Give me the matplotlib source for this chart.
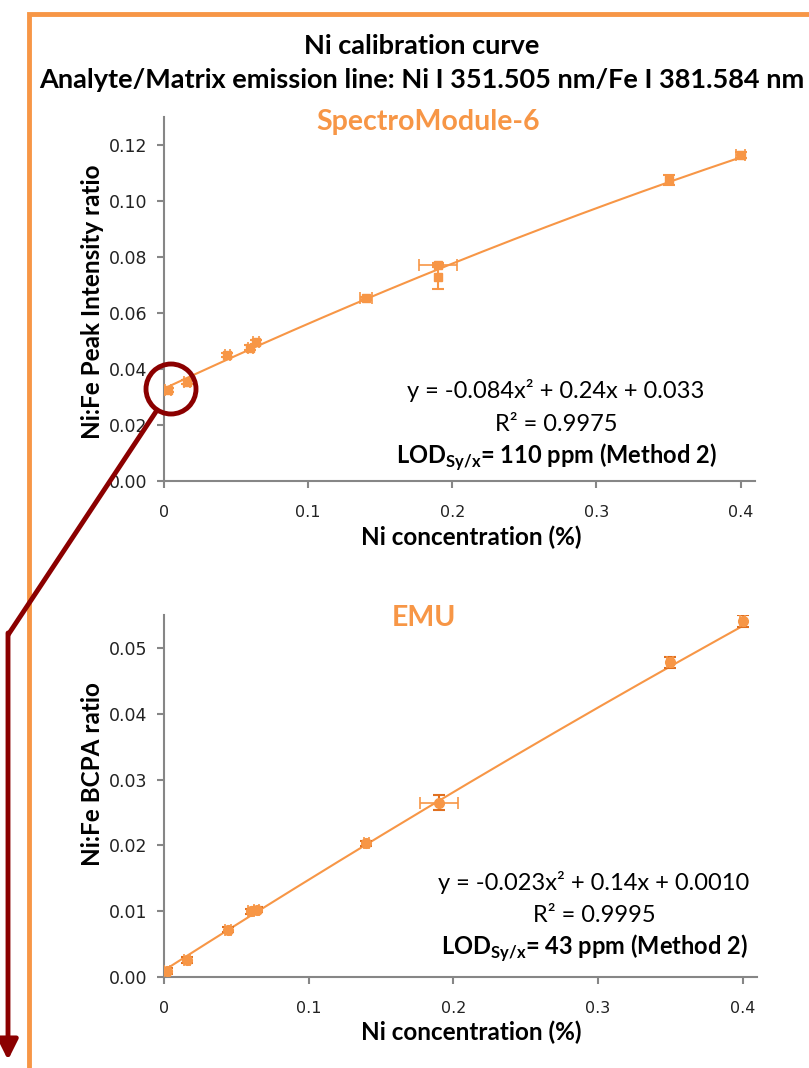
import matplotlib
matplotlib.use("Agg")
import matplotlib.pyplot as plt
import numpy as np
from matplotlib.patches import Circle, FancyArrowPatch
from matplotlib.lines import Line2D
from matplotlib.transforms import IdentityTransform

# SpectroModule-6 data (square markers)
sm_x = [0.003, 0.016, 0.044, 0.060, 0.064, 0.140, 0.190, 0.190, 0.350, 0.400]
sm_y = [0.0325, 0.0354, 0.0450, 0.0476, 0.0496, 0.0652, 0.0771, 0.0730, 0.1075, 0.1164]
sm_xerr = [0.002, 0.002, 0.002, 0.002, 0.002, 0.004, 0.013, 0.0, 0.002, 0.003]
sm_yerr = [0.0008, 0.0008, 0.0008, 0.0008, 0.0008, 0.0006, 0.0008, 0.0043, 0.0019, 0.0010]
sm_fit = [-0.084, 0.24, 0.033]

# EMU data (round markers)
emu_x = [0.002, 0.016, 0.044, 0.060, 0.064, 0.140, 0.190, 0.350, 0.400]
emu_y = [0.0009, 0.0026, 0.0072, 0.0100, 0.0102, 0.0203, 0.0265, 0.0478, 0.0541]
emu_xerr = [0.002, 0.002, 0.002, 0.002, 0.002, 0.002, 0.013, 0.002, 0.002]
emu_yerr = [0.0004, 0.0004, 0.0004, 0.0004, 0.0004, 0.0004, 0.0011, 0.0008, 0.0009]
emu_fit = [-0.023, 0.14, 0.0010]

sm_yticks = [0.00, 0.02, 0.04, 0.06, 0.08, 0.10, 0.12]
emu_yticks = [0.00, 0.01, 0.02, 0.03, 0.04, 0.05]
xticks = [0, 0.1, 0.2, 0.3, 0.4]
xticklabels = ['0', '0.1', '0.2', '0.3', '0.4']

ORANGE = '#F79646'
DARK_ORANGE = '#E07020'
DARK_RED = '#8B0000'
GREY = '#868686'

plt.rcParams['mathtext.fontset'] = 'custom'
plt.rcParams['mathtext.rm'] = 'Lato'
plt.rcParams['mathtext.bf'] = 'Lato:bold'

W, H = 809, 1068
fig = plt.figure(figsize=(W / 100, H / 100), dpi=100)


def fx(x):
    return x / W


def fy(y):
    return 1 - y / H


def style_axes(ax, yticks, ymax, yfmt):
    ax.set_xlim(0, 0.41)
    ax.set_ylim(0, ymax)
    ax.set_xticks(xticks)
    ax.set_xticklabels(xticklabels)
    ax.set_yticks(yticks)
    ax.set_yticklabels([yfmt % v for v in yticks])
    for s in ['top', 'right']:
        ax.spines[s].set_visible(False)
    for s in ['left', 'bottom']:
        ax.spines[s].set_color(GREY)
        ax.spines[s].set_linewidth(1.5)
    ax.tick_params(colors=GREY, width=1.5, length=5, direction='out',
                   labelcolor='#222222')
    ax.tick_params(axis='x', pad=12, labelsize=11.5)
    ax.tick_params(axis='y', pad=7, labelsize=12.5)
    ax.patch.set_alpha(0)


def draw(ax, x, y, xerr, yerr, fit, marker, ms, ycol):
    xs = np.linspace(0, max(x), 200)
    ax.plot(xs, np.polyval(fit, xs), color=ORANGE, lw=1.5, zorder=2)
    ax.errorbar(x, y, yerr=yerr, fmt='none', ecolor=ycol, elinewidth=1.5,
                capsize=4, capthick=1.5, zorder=3)
    ax.errorbar(x, y, xerr=xerr, fmt='none', ecolor=ORANGE, elinewidth=1.2,
                capsize=4, capthick=1.2, zorder=3)
    ax.plot(x, y, ls='none', marker=marker, ms=ms, color=ORANGE,
            mec=ORANGE, zorder=4)


# top chart
ax1 = fig.add_axes([fx(164), fy(481), fx(755) - fx(164), fy(117) - fy(481)])
style_axes(ax1, sm_yticks, 0.13, '%.2f')
draw(ax1, sm_x, sm_y, sm_xerr, sm_yerr, sm_fit, 's', 5.5, ORANGE)

# bottom chart
ax2 = fig.add_axes([fx(164), fy(977), fx(757) - fx(164), fy(615) - fy(977)])
style_axes(ax2, emu_yticks, 0.055, '%.2f')
draw(ax2, emu_x, emu_y, emu_xerr, emu_yerr, emu_fit, 'o', 7, DARK_ORANGE)

# titles
fig.text(fx(422), fy(46), 'Ni calibration curve', ha='center', va='center',
         fontsize=19.5, fontweight='bold', family='Lato')
fig.text(fx(422), fy(80), 'Analyte/Matrix emission line: Ni I 351.505 nm/Fe I 381.584 nm',
         ha='center', va='center', fontsize=19.5, fontweight='bold', family='Lato')
fig.text(fx(428), fy(122), 'SpectroModule-6', ha='center', va='center',
         fontsize=20.5, fontweight='bold', family='Lato', color=ORANGE)
fig.text(fx(424), fy(618), 'EMU', ha='center', va='center',
         fontsize=20.5, fontweight='bold', family='Lato', color=ORANGE)

# axis labels
for yy in (537, 1032):
    fig.text(fx(471), fy(yy), 'Ni concentration (%)', ha='center', va='center',
             fontsize=17.5, fontweight='bold', family='Lato')
fig.text(fx(93), fy(302), 'Ni:Fe Peak Intensity ratio', ha='center', va='center',
         rotation=90, fontsize=17.5, fontweight='bold', family='Lato')
fig.text(fx(93), fy(774), 'Ni:Fe BCPA ratio', ha='center', va='center',
         rotation=90, fontsize=17.5, fontweight='bold', family='Lato')

# equations
fig.text(fx(556), fy(390), 'y = -0.084x² + 0.24x + 0.033', ha='center', va='center',
         fontsize=17, family='Lato')
fig.text(fx(556), fy(424), 'R² = 0.9975', ha='center', va='center',
         fontsize=17, family='Lato')
fig.text(fx(556), fy(457), r'LOD$_{\mathbf{Sy/x}}$= 110 ppm (Method 2)', ha='center',
         va='center', fontsize=17, fontweight='bold', family='Lato')
fig.text(fx(594), fy(883), 'y = -0.023x² + 0.14x + 0.0010', ha='center', va='center',
         fontsize=17, family='Lato')
fig.text(fx(594), fy(916), 'R² = 0.9995', ha='center', va='center',
         fontsize=17, family='Lato')
fig.text(fx(594), fy(948), r'LOD$_{\mathbf{Sy/x}}$= 43 ppm (Method 2)', ha='center',
         va='center', fontsize=17, fontweight='bold', family='Lato')

# orange frame (left and top edges)
fig.add_artist(Line2D([fx(29), fx(29), 1.0], [0.0, fy(14), fy(14)],
                      transform=fig.transFigure, color=ORANGE, lw=3.5,
                      solid_joinstyle='miter', zorder=0))

# zoom circle and arrow (pixel coords, origin bottom-left)
cx, cy, r = 171, H - 389, 25
fig.add_artist(Circle((cx, cy), r, transform=IdentityTransform(), fill=False,
                      ec=DARK_RED, lw=3.5, zorder=10))
kx, ky = 8, H - 635
ux, uy = kx - cx, ky - cy
n = np.hypot(ux, uy)
fig.add_artist(Line2D([cx + r * ux / n, kx], [cy + r * uy / n, ky],
                      transform=IdentityTransform(), color=DARK_RED, lw=3.5,
                      solid_capstyle='butt', zorder=10))
fig.add_artist(FancyArrowPatch((kx, ky + 2), (kx, H - 1060), transform=IdentityTransform(),
                               arrowstyle='-|>,head_length=6,head_width=3',
                               mutation_scale=2, color=DARK_RED, lw=3.5,
                               shrinkA=0, shrinkB=0, zorder=10))

fig.savefig('out.png', dpi=100)
